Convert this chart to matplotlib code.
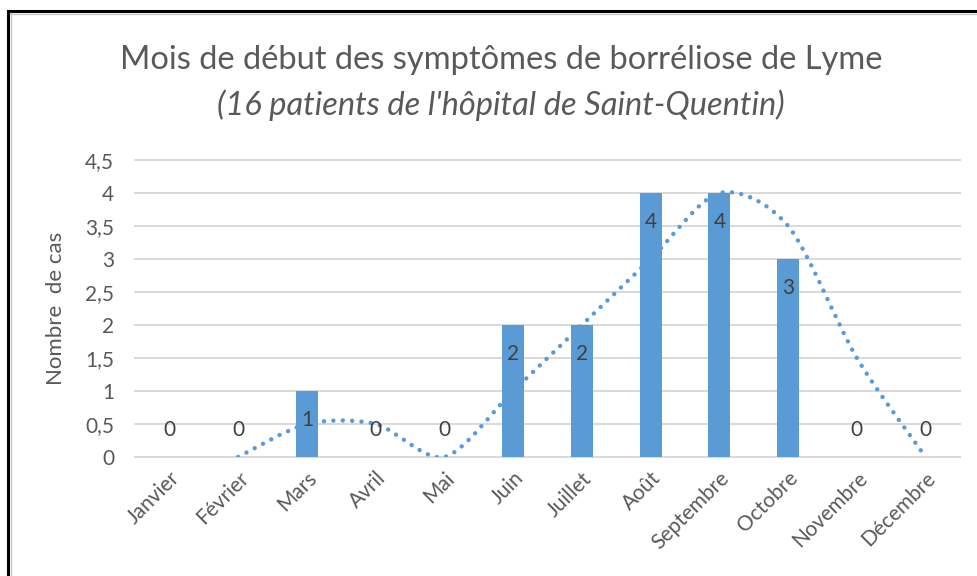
import matplotlib
import numpy as np
import matplotlib.pyplot as plt
from matplotlib.path import Path
from matplotlib.patches import PathPatch
from matplotlib.lines import Line2D

matplotlib.rcParams['font.family'] = ['Lato', 'DejaVu Sans']

months = ['Janvier', 'Février', 'Mars', 'Avril', 'Mai', 'Juin', 'Juillet',
          'Août', 'Septembre', 'Octobre', 'Novembre', 'Décembre']
cases = [0, 0, 1, 0, 0, 2, 2, 4, 4, 3, 0, 0]
# moyenne mobile sur 2 mois (de Février à Décembre)
trend_x = list(range(1, 12))
trend_y = [0, 0.5, 0.5, 0, 1, 2, 3, 4, 3.5, 1.5, 0]
yticks = [0, 0.5, 1, 1.5, 2, 2.5, 3, 3.5, 4, 4.5]

blue = '#5B9BD5'
grey = '#595959'
gridc = '#D9D9D9'

fig = plt.figure(figsize=(9.78, 5.76), dpi=100)
ax = fig.add_axes([135/978, 1-457/576, 825/978, 297/576])

idx = np.arange(len(months))
ax.bar(idx, cases, 0.32, color=blue, zorder=2)

for i, v in enumerate(cases):
    yy = v - 0.44 if v > 0 else 0.41
    ax.text(i, yy, str(v), ha='center', va='center', fontsize=15,
            color='#404040', zorder=4)

# courbe de tendance lissée (bezier)
pts = np.column_stack([trend_x, trend_y]).astype(float)
verts = [tuple(pts[0])]
codes = [Path.MOVETO]
n = len(pts)
for i in range(n - 1):
    p0 = pts[max(i - 1, 0)]
    p1 = pts[i]
    p2 = pts[i + 1]
    p3 = pts[min(i + 2, n - 1)]
    c1 = p1 + (p2 - p0) / 7
    c2 = p2 - (p3 - p1) / 7
    verts += [tuple(c1), tuple(c2), tuple(p2)]
    codes += [Path.CURVE4] * 3
patch = PathPatch(Path(verts, codes), facecolor='none', edgecolor=blue,
                  linewidth=3.2, linestyle=(0, (0.01, 2.1)),
                  capstyle='round', zorder=3)
ax.add_patch(patch)

for t in yticks:
    ax.axhline(t, color=gridc, linewidth=1.4, zorder=1, clip_on=False)

ax.set_xlim(-0.5, 11.5)
ax.set_ylim(0, 4.5)
for s in ax.spines.values():
    s.set_visible(False)
ax.set_yticks(yticks)
ax.set_yticklabels([str(t).replace('.', ',').replace(',0', '') for t in yticks])
ax.set_xticks(idx)
ax.set_xticklabels(months, rotation=45, ha='right', rotation_mode='anchor')
ax.tick_params(length=0, labelsize=15, colors=grey)
ax.tick_params(axis='y', pad=15)
ax.tick_params(axis='x', pad=8)
ax.set_ylabel('Nombre  de cas', fontsize=16, color=grey, labelpad=14)

fig.text(501/978, 1-60/576, 'Mois de début des symptômes de borréliose de Lyme',
         ha='center', va='center', fontsize=23.5, color=grey)
fig.text(501/978, 1-105/576, "(16 patients de l'hôpital de Saint-Quentin)",
         ha='center', va='center', fontsize=23.5, color=grey, style='italic')

# cadre
fig.add_artist(Line2D([8/978, 1], [1-11/576, 1-11/576], color='black', linewidth=2.2))
fig.add_artist(Line2D([8/978, 8/978], [0, 1-11/576], color='black', linewidth=2.2))
fig.add_artist(Line2D([10/978, 1], [1-13.5/576, 1-13.5/576], color='#C8C8C8', linewidth=1))
fig.add_artist(Line2D([10.5/978, 10.5/978], [0, 1-13/576], color='#C8C8C8', linewidth=1))

plt.savefig('out.png', dpi=100)
